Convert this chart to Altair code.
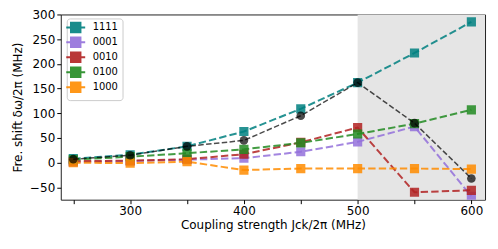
import altair as alt
import pandas as pd

x_vals = [250, 300, 350, 400, 450, 500, 550, 600]
series_names = ["1111", "0001", "0010", "0100", "1000"]
s1111 = [8, 16, 33, 63, 109, 162, 222, 285]
s0001 = [1, 3, 6, 9, 22, 42, 73, -68]
s0010 = [3, 4, 7, 17, 41, 71, -60, -56]
s0100 = [6, 12, 19, 27, 40, 58, 79, 107]
s1000 = [0, -1, 2, -15, -12, -12, -12, -13]
total = [7, 15, 33, 45, 95, 162, 80, -32]
colors = ["#008080", "#9370DB", "#B22222", "#228B22", "#FF8C00"]
span_start, span_end = 500, 612
x_domain = [239, 612]
y_domain = [-75, 300]
y_ticks = [-50, 0, 50, 100, 150, 200, 250, 300]

rows = []
for name, vals in zip(series_names, [s1111, s0001, s0010, s0100, s1000]):
    for i, (xv, yv) in enumerate(zip(x_vals, vals)):
        rows.append({"x": xv, "y": yv, "series": name, "order": i})
df = pd.DataFrame(rows)
df_total = pd.DataFrame({"x": x_vals, "y": total})
df_span = pd.DataFrame({"x": [span_start], "x2": [span_end]})

xs = alt.Scale(domain=x_domain, nice=False, zero=False)
ys = alt.Scale(domain=y_domain, nice=False, zero=False)

x_axis = alt.Axis(
    title="Coupling strength Jck/2π (MHz)",
    values=x_vals,
    labelExpr="datum.value % 100 == 0 ? datum.label : ''",
)
y_axis = alt.Axis(title="Fre. shift δω/2π (MHz)", values=y_ticks)

X = alt.X("x:Q", scale=xs, axis=x_axis)
Y = alt.Y("y:Q", scale=ys, axis=y_axis)

color = alt.Color(
    "series:N",
    scale=alt.Scale(domain=series_names, range=colors),
    sort=series_names,
    legend=alt.Legend(
        title=None, orient="none", legendX=6, legendY=4,
        symbolType="M-3.8,0L3.8,0M-1.9,-1.9L1.9,-1.9L1.9,1.9L-1.9,1.9Z",
        symbolSize=25, symbolStrokeWidth=2, symbolOpacity=0.9,
        labelFontSize=10, labelColor="black",
        fillColor="white", strokeColor="#cccccc", cornerRadius=3,
        padding=4, rowPadding=-3, labelOffset=12,
    ),
)

span = alt.Chart(df_span).mark_rect(color="#e5e5e5", clip=True).encode(
    x=X, x2="x2:Q", y=alt.value(0), y2=alt.value(186),
)

lines = alt.Chart(df).mark_line(strokeDash=[7.4, 3.2], strokeWidth=2, opacity=0.85, clip=True).encode(
    x=X, y=Y, color=color, detail="series:N", order="order:Q",
)
points = alt.Chart(df).mark_point(shape="square", filled=True, size=85, opacity=0.85, clip=True).encode(
    x=X, y=Y, color=color,
)

tline = alt.Chart(df_total).mark_line(strokeDash=[5.5, 2.4], strokeWidth=1.5, color="#000000", opacity=0.7, clip=True).encode(
    x=X, y=Y,
)
tpts = alt.Chart(df_total).mark_circle(size=75, color="#000000", opacity=0.7, clip=True).encode(
    x=X, y=Y,
)

chart = alt.layer(span, lines, points, tline, tpts).properties(
    width=426, height=186,
    autosize=alt.AutoSizeParams(type="none"),
    padding={"left": 53, "top": 6, "right": 5, "bottom": 41},
).configure(
    font="DejaVu Sans"
).configure_view(
    stroke="#222222", strokeWidth=1
).configure_axis(
    grid=False, domain=False, tickColor="black", tickSize=4, labelOverlap=False,
    labelFontSize=12, titleFontSize=12, labelColor="black",
    titleColor="black", titleFontWeight="normal", labelPadding=2,
).configure_axisX(
    titlePadding=3
).configure_axisY(
    titlePadding=5
)

chart.save("out.html", embed_options={"renderer": "svg", "actions": False})
